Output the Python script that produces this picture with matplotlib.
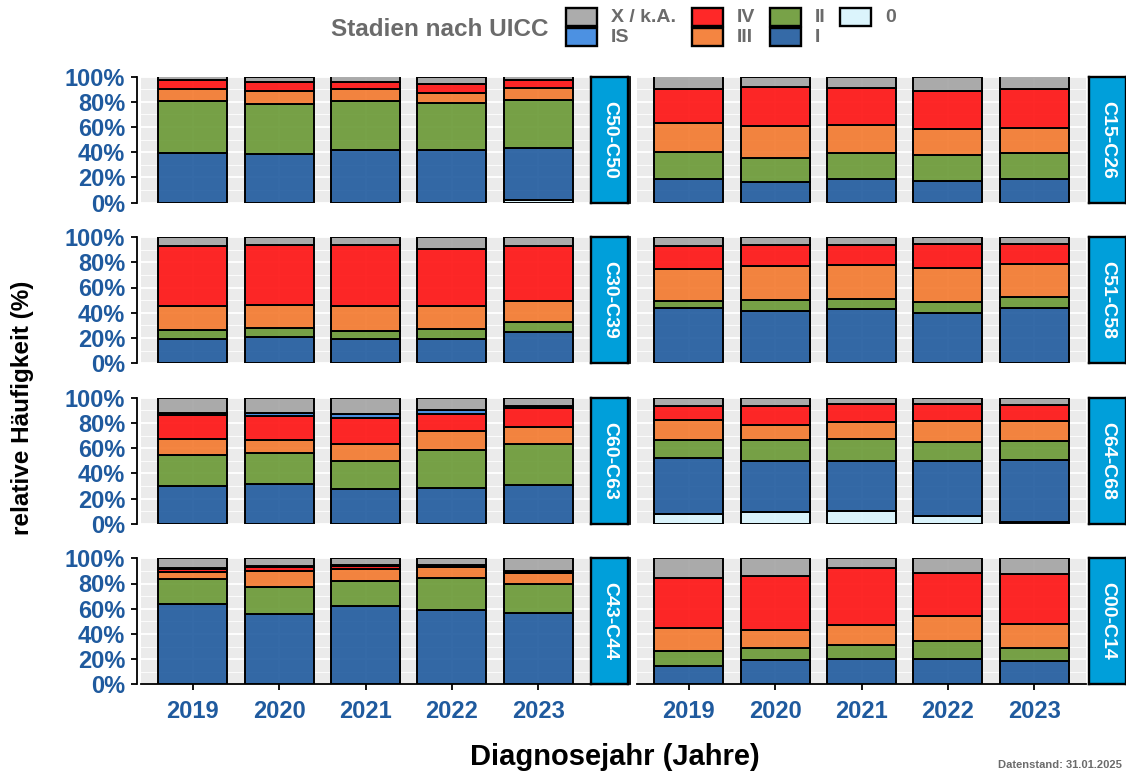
import matplotlib
matplotlib.use("Agg")
import matplotlib.pyplot as plt
from matplotlib.patches import Rectangle
from matplotlib.colors import to_rgba
import numpy as np

plt.rcParams['font.family'] = ['Liberation Sans', 'DejaVu Sans']
plt.rcParams['font.weight'] = 'bold'

# ---------------- data ----------------
years = ["2019", "2020", "2021", "2022", "2023"]
stages = ["0", "I", "II", "III", "IV", "IS", "X / k.A."]          # bottom -> top
legend_order = ["X / k.A.", "IS", "IV", "III", "II", "I", "0"]    # column-major, 2 rows
stage_colors = {
    "0": "#D8F3FC",
    "I": "#1F5A9E",
    "II": "#699834",
    "III": "#F3782C",
    "IV": "#FF1010",
    "IS": "#3885DF",
    "X / k.A.": "#A3A3A3",
}
entities = ["C50-C50", "C15-C26", "C30-C39", "C51-C58",
            "C60-C63", "C64-C68", "C43-C44", "C00-C14"]

c50_c50 = {"0": [0, 0, 0, 0, 2.0],
           "I": [39.2, 38.1, 41.8, 41.8, 41.4],
           "II": [41.0, 40.2, 38.6, 37.3, 38.1],
           "III": [9.5, 9.8, 9.3, 7.9, 9.5],
           "IV": [7.8, 7.4, 5.8, 7.2, 6.5],
           "IS": [0, 0, 0, 0, 0],
           "X / k.A.": [2.5, 4.5, 4.5, 5.8, 2.5]}
c15_c26 = {"0": [0, 0, 0, 0, 0],
           "I": [18.5, 16.4, 19.0, 16.9, 18.3],
           "II": [21.2, 19.0, 20.4, 20.9, 20.6],
           "III": [23.5, 25.2, 22.5, 20.4, 20.6],
           "IV": [27.0, 30.9, 29.1, 29.9, 30.2],
           "IS": [0, 0, 0, 0, 0],
           "X / k.A.": [9.8, 8.5, 9.0, 11.9, 10.3]}
c30_c39 = {"0": [0, 0, 0, 0, 0],
           "I": [19.0, 20.4, 18.8, 19.0, 24.9],
           "II": [6.9, 7.4, 6.6, 8.0, 7.4],
           "III": [19.1, 18.2, 19.6, 18.0, 16.6],
           "IV": [47.9, 47.4, 48.9, 45.7, 44.0],
           "IS": [0, 0, 0, 0, 0],
           "X / k.A.": [7.1, 6.6, 6.1, 9.3, 7.1]}
c51_c58 = {"0": [0, 0, 0, 0, 0],
           "I": [43.4, 41.5, 42.9, 39.9, 43.9],
           "II": [6.1, 8.8, 8.2, 8.8, 8.7],
           "III": [25.1, 26.7, 26.9, 26.7, 26.0],
           "IV": [18.0, 16.9, 15.9, 18.8, 15.6],
           "IS": [0, 0, 0, 0, 0],
           "X / k.A.": [7.4, 6.1, 6.1, 5.8, 5.8]}
c60_c63 = {"0": [0, 0, 0, 0, 0],
           "I": [29.9, 31.7, 27.2, 28.3, 30.4],
           "II": [24.6, 24.6, 22.5, 29.9, 33.1],
           "III": [12.7, 9.8, 13.3, 15.3, 13.2],
           "IV": [19.3, 19.1, 21.1, 13.8, 15.3],
           "IS": [1.0, 2.4, 3.2, 3.2, 1.5],
           "X / k.A.": [12.5, 12.4, 12.7, 9.5, 6.5]}
c64_c68 = {"0": [7.9, 9.5, 10.3, 6.3, 1.0],
           "I": [44.5, 40.2, 39.4, 43.4, 49.3],
           "II": [13.7, 16.4, 17.2, 15.1, 15.3],
           "III": [15.9, 12.2, 13.5, 16.4, 15.6],
           "IV": [11.1, 15.4, 14.8, 13.5, 13.0],
           "IS": [0, 0, 0, 0, 0],
           "X / k.A.": [6.9, 6.3, 4.8, 5.3, 5.8]}
c43_c44 = {"0": [0, 0, 0, 0, 0],
           "I": [64.0, 55.6, 61.9, 59.3, 56.6],
           "II": [19.9, 21.6, 20.1, 25.1, 23.3],
           "III": [5.5, 12.5, 9.3, 8.7, 8.5],
           "IV": [2.0, 3.0, 2.5, 1.0, 1.0],
           "IS": [1.0, 0.8, 1.2, 0.6, 0.8],
           "X / k.A.": [7.6, 6.5, 5.0, 5.3, 9.8]}
c00_c14 = {"0": [0, 0, 0, 0, 0],
           "I": [14.6, 19.0, 20.1, 19.8, 18.3],
           "II": [11.9, 9.6, 11.4, 14.6, 10.8],
           "III": [18.2, 14.3, 15.3, 19.8, 19.0],
           "IV": [40.0, 43.3, 45.8, 34.2, 39.7],
           "IS": [0, 0, 0, 0, 0],
           "X / k.A.": [15.3, 13.8, 7.4, 11.6, 12.2]}

panel_data = {"C50-C50": c50_c50, "C15-C26": c15_c26, "C30-C39": c30_c39,
              "C51-C58": c51_c58, "C60-C63": c60_c63, "C64-C68": c64_c68,
              "C43-C44": c43_c44, "C00-C14": c00_c14}

# ---------------- layout ----------------
W, H = 1126, 776
fig = plt.figure(figsize=(W / 100, H / 100), dpi=100)


def fx(px):
    return px / W


def fy(py):
    return 1 - py / H


TICK_BLUE = "#1F5A9E"
GREY_TXT = "#6B6B6B"
panel_left = [141, 637]
panel_w = 449
strip_left = [591, 1089]
strip_w = 37
row_top0 = 76.5
row_step = 160.6
panel_h = 126
nrows = 4

for idx, name in enumerate(entities):
    r, c = divmod(idx, 2)
    top = row_top0 + r * row_step
    ax = fig.add_axes([fx(panel_left[c]), fy(top + panel_h), panel_w / W, panel_h / H])
    ax.set_facecolor('#EBEBEB')
    data = panel_data[name]
    x = np.arange(len(years))
    totals = sum(np.array(data[s], dtype=float) for s in stages)
    bottom = np.zeros(len(years))
    for s in stages:
        vals = np.array(data[s], dtype=float) / totals * 100
        mask = vals > 0
        if mask.any():
            ax.bar(x[mask], vals[mask], width=0.8, bottom=bottom[mask],
                   color=to_rgba(stage_colors[s], 0.9), edgecolor='black',
                   linewidth=1.4, zorder=3)
        bottom += vals
    ax.set_xlim(-0.6, len(years) - 0.4)
    ax.set_ylim(0, 100)
    ax.set_xticks(x)
    ax.set_yticks(np.arange(0, 101, 20))
    ax.set_yticks(np.arange(10, 100, 20), minor=True)
    ax.set_axisbelow(True)
    ax.grid(which='major', color='white', lw=1.3, zorder=0)
    ax.grid(which='minor', axis='y', color='white', lw=0.6, zorder=0)
    ax.tick_params(which='minor', length=0)
    for sp in ['top', 'right']:
        ax.spines[sp].set_visible(False)
    ax.spines['left'].set_position(('outward', 3 if c == 0 else 5))
    ax.spines['left'].set_linewidth(1.3)
    ax.spines['bottom'].set_linewidth(1.3)

    if c == 0:
        ax.set_yticklabels([f"{v}%" for v in range(0, 101, 20)])
        ax.tick_params(axis='y', which='major', length=4.5, width=1.3,
                       labelsize=17, labelcolor=TICK_BLUE, pad=4)
    else:
        ax.set_yticklabels([])
        ax.tick_params(axis='y', which='major', length=0)

    if r == nrows - 1:
        ax.set_xticklabels(years)
        ax.tick_params(axis='x', which='major', length=4.5, width=1.3,
                       labelsize=17, labelcolor=TICK_BLUE, pad=7)
    else:
        ax.spines['bottom'].set_visible(False)
        ax.set_xticklabels([])
        ax.tick_params(axis='x', which='major', length=0)

    # strip
    sax = fig.add_axes([fx(strip_left[c]), fy(top + panel_h), strip_w / W, panel_h / H])
    sax.set_facecolor('#009FDA')
    sax.set_xticks([])
    sax.set_yticks([])
    for sp in sax.spines.values():
        sp.set_linewidth(1.7)
        sp.set_color('black')
    sax.text(0.5, 0.5, name, rotation=270, ha='center', va='center',
             color='white', fontsize=14, fontweight='bold', transform=sax.transAxes)

# ---------------- legend ----------------
fig.text(fx(331), fy(29), "Stadien nach UICC", ha='left', va='center',
         fontsize=17.5, color=GREY_TXT, fontweight='bold')
key_x = [566, 692, 770, 840]
row_y = [17, 37]
key_w, key_h = 31, 17
for i, s in enumerate(legend_order):
    col, row = divmod(i, 2)
    kx, ky = key_x[col], row_y[row]
    fig.add_artist(Rectangle((fx(kx), fy(ky + key_h / 2)), key_w / W, key_h / H,
                             transform=fig.transFigure,
                             facecolor=to_rgba(stage_colors[s], 0.9),
                             edgecolor='black', linewidth=1.7))
    fig.text(fx(kx + 45), fy(ky), s, ha='left', va='center', fontsize=14,
             color=GREY_TXT, fontweight='bold')

# ---------------- titles ----------------
fig.text(fx(22), fy(408), "relative Häufigkeit (%)", rotation=90, ha='center',
         va='center', fontsize=17.5, fontweight='bold', color='black')
fig.text(fx(615), fy(757), "Diagnosejahr (Jahre)", ha='center', va='center',
         fontsize=21, fontweight='bold', color='black')
fig.text(fx(1122), fy(765), "Datenstand: 31.01.2025", ha='right', va='center',
         fontsize=8, fontweight='bold', color=GREY_TXT)

fig.savefig("out.png", dpi=100)
